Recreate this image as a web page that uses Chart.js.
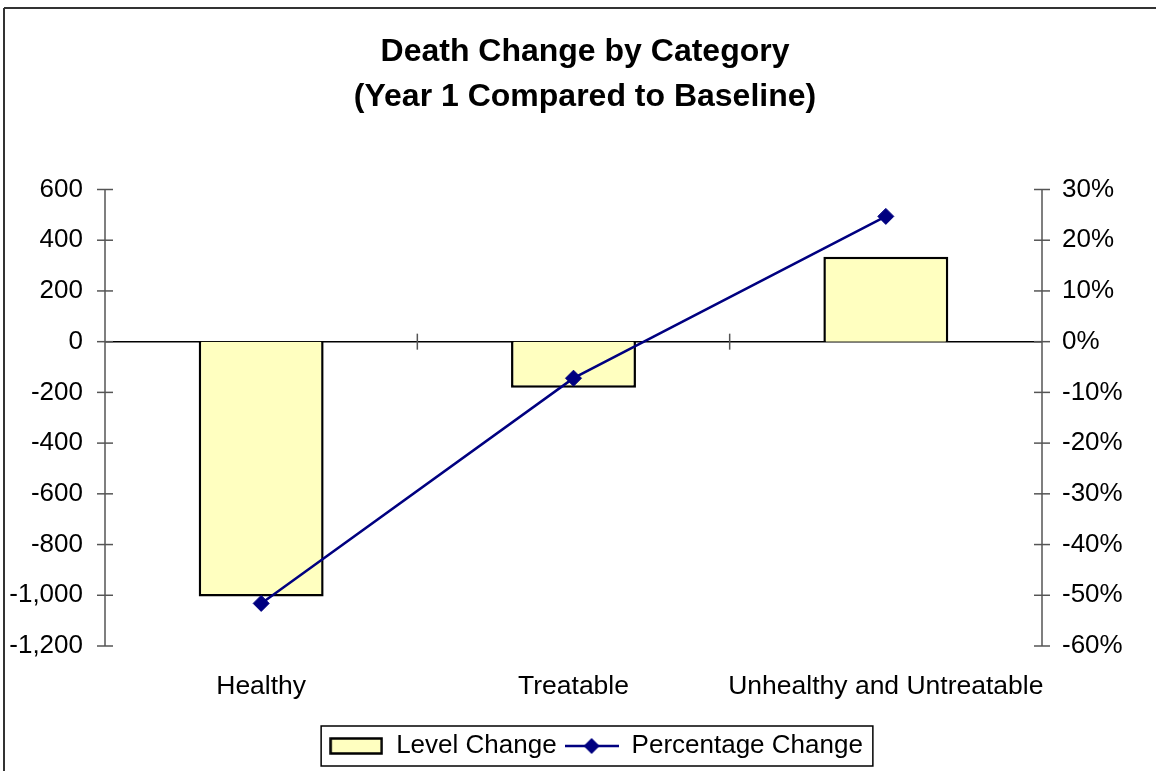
<!DOCTYPE html>
<html>
<head>
<meta charset="utf-8">
<title>Death Change by Category</title>
<script src="https://cdn.jsdelivr.net/npm/chart.js@4.4.0/dist/chart.umd.min.js"></script>
<style>
  html, body { margin: 0; padding: 0; background: #fff; }
  canvas { display: block; }
</style>
</head>
<body>
<canvas id="deathChart" width="1156" height="771"></canvas>
<script>
// data
const categories = ['Healthy', 'Treatable', 'Unhealthy and Untreatable'];
const levelChange = [-1005, -182, 335];
const percentageChange = [-51.6, -7.2, 24.7];
const levelAxis = [-1200, 600, 200];     // min, max, step
const percentAxis = [-60, 30, 10];       // min, max, step

const barFill = '#FFFFC0';
const navy = '#000080';
const axisGrey = '#555';
const fontFamily = "Arial, 'Liberation Sans', sans-serif";

Chart.defaults.font.family = fontFamily;
Chart.defaults.color = '#000';

// small images used as legend swatches
function makeSwatch(draw) {
    var c = document.createElement('canvas');
    c.width = 54;
    c.height = 20;
    draw(c.getContext('2d'));
    return c;
}
const barSwatch = makeSwatch(ctx => {
    ctx.fillStyle = barFill;
    ctx.fillRect(1.5, 2.5, 51, 15);
    ctx.lineWidth = 2.5;
    ctx.strokeStyle = '#000';
    ctx.strokeRect(1.5, 2.5, 51, 15);
});
const lineSwatch = makeSwatch(ctx => {
    ctx.strokeStyle = navy;
    ctx.lineWidth = 2.5;
    ctx.beginPath();
    ctx.moveTo(0, 10);
    ctx.lineTo(54, 10);
    ctx.stroke();
    ctx.fillStyle = navy;
    ctx.beginPath();
    ctx.moveTo(27, 2);
    ctx.lineTo(35, 10);
    ctx.lineTo(27, 18);
    ctx.lineTo(19, 10);
    ctx.closePath();
    ctx.fill();
});

function seg(ctx, x1, y1, x2, y2) {
    ctx.beginPath();
    ctx.moveTo(x1, y1);
    ctx.lineTo(x2, y2);
    ctx.stroke();
}

// Excel-like axes: crossing tick marks, zero line, category dividers
const excelAxes = {
    id: 'excelAxes',
    afterLayout(chart) {
        // the original chart is cropped on the right, so its centred texts sit a bit right
        chart.titleBlock.left += 14;
        chart.legend.left += 36;
    },
    beforeDatasetsDraw(chart) {
        const {ctx, chartArea: a, scales: {x, y, y1}} = chart;
        ctx.save();
        ctx.strokeStyle = '#000';
        ctx.lineWidth = 1.5;
        const zeroY = y.getPixelForValue(0);
        seg(ctx, a.left, zeroY, a.right, zeroY);

        ctx.strokeStyle = axisGrey;
        ctx.lineWidth = 1.5;
        for (let i = 0; i < categories.length - 1; i++) {
            const px = x.getPixelForValue(i + 0.5);
            seg(ctx, px, zeroY - 8, px, zeroY + 8);
        }
        seg(ctx, a.left, a.top, a.left, a.bottom);
        y.ticks.forEach(t => {
            const py = y.getPixelForValue(t.value);
            seg(ctx, a.left - 8, py, a.left + 8, py);
        });
        seg(ctx, a.right, a.top, a.right, a.bottom);
        y1.ticks.forEach(t => {
            const py = y1.getPixelForValue(t.value);
            seg(ctx, a.right - 8, py, a.right + 8, py);
        });
        ctx.restore();
    },
    afterDraw(chart) {
        const ctx = chart.ctx;
        ctx.save();
        // legend frame
        const boxes = chart.legend.legendHitBoxes;
        if (boxes && boxes.length) {
            const left = Math.min(...boxes.map(b => b.left)) - 8;
            const right = Math.max(...boxes.map(b => b.left + b.width)) + 10;
            const top = boxes[0].top - 7;
            const h = boxes[0].height + 14;
            ctx.strokeStyle = '#000';
            ctx.lineWidth = 1.5;
            ctx.strokeRect(left, top, right - left, h);
        }
        // outer chart frame (cropped at right and bottom)
        ctx.strokeStyle = '#333';
        ctx.lineWidth = 2;
        seg(ctx, 4, 8, chart.width, 8);
        seg(ctx, 4, 8, 4, chart.height);
        ctx.restore();
    }
};

var ctx = document.getElementById('deathChart').getContext('2d');
window.myChart = new Chart(ctx, {
    type: 'bar',
    data: {
        labels: categories,
        datasets: [{
            type: 'bar',
            label: 'Level Change',
            data: levelChange,
            yAxisID: 'y',
            backgroundColor: barFill,
            borderColor: '#000',
            borderWidth: 2.5,
            barPercentage: 0.4,
            categoryPercentage: 1,
            order: 1
        }, {
            type: 'line',
            label: 'Percentage Change',
            data: percentageChange,
            yAxisID: 'y1',
            borderColor: navy,
            backgroundColor: navy,
            borderWidth: 2.5,
            pointStyle: 'rectRot',
            pointRadius: 8,
            pointBorderWidth: 1,
            tension: 0,
            fill: false,
            order: 0
        }]
    },
    options: {
        responsive: false,
        animation: false,
        events: [],
        layout: { padding: { top: 0, bottom: 2, left: 0, right: 0 } },
        plugins: {
            title: {
                display: true,
                text: ['Death Change by Category', '(Year 1 Compared to Baseline)'],
                color: '#000',
                font: { size: 32, weight: 'bold', lineHeight: 1.40625 },
                padding: { top: 29.5, bottom: 70 }
            },
            legend: {
                position: 'bottom',
                labels: {
                    usePointStyle: true,
                    pointStyleWidth: 54,
                    padding: 8,
                    color: '#000',
                    font: { size: 26 },
                    sort: (a, b) => a.datasetIndex - b.datasetIndex,
                    generateLabels: chart => {
                        const items = Chart.defaults.plugins.legend.labels.generateLabels(chart);
                        items.forEach(it => {
                            it.pointStyle = it.datasetIndex === 0 ? barSwatch : lineSwatch;
                        });
                        return items;
                    }
                }
            },
            tooltip: { enabled: false }
        },
        scales: {
            x: {
                offset: true,
                grid: { display: false, drawTicks: false },
                border: { display: false },
                ticks: { color: '#000', font: { size: 26.5 }, padding: 25, maxRotation: 0, autoSkip: false },
                afterFit: s => { s.height = 79; }
            },
            y: {
                position: 'left',
                min: levelAxis[0],
                max: levelAxis[1],
                grid: { display: false, drawTicks: false },
                border: { display: false },
                ticks: {
                    stepSize: levelAxis[2],
                    padding: 22,
                    color: '#000',
                    font: { size: 26 },
                    callback: v => v.toLocaleString('en-US')
                },
                afterFit: s => { s.width = 105; }
            },
            y1: {
                position: 'right',
                min: percentAxis[0],
                max: percentAxis[1],
                grid: { display: false, drawTicks: false },
                border: { display: false },
                ticks: {
                    stepSize: percentAxis[2],
                    padding: 20,
                    color: '#000',
                    font: { size: 26 },
                    callback: v => Math.round(v) + '%'
                },
                afterFit: s => { s.width = 114; }
            }
        }
    },
    plugins: [excelAxes]
});
</script>
</body>
</html>
